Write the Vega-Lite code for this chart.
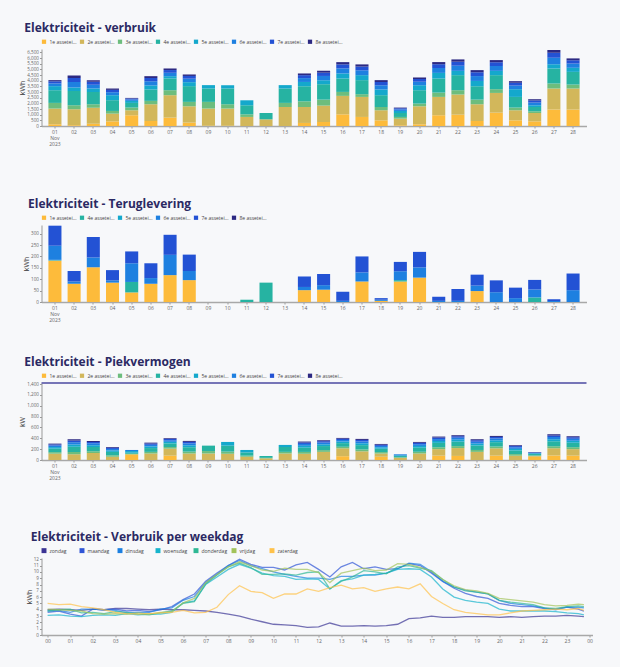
{
"$schema": "https://vega.github.io/schema/vega-lite/v6.json",
"background": "#f7f8fa",
"padding": {"left": 18.5, "top": 22, "right": 27, "bottom": 28},
"spacing": 34,
"resolve": {"scale": {"color": "independent", "x": "independent", "y": "independent"}, "legend": {"color": "independent"}},
"datasets": {
"verbruik": [
{"d":"01","s":"1e","v":150},{"d":"01","s":"2e","v":1390},{"d":"01","s":"3e","v":500},{"d":"01","s":"4e","v":1120},{"d":"01","s":"5e","v":360},{"d":"01","s":"6e","v":240},{"d":"01","s":"7e","v":185},{"d":"01","s":"8e","v":105},
{"d":"02","s":"1e","v":60},{"d":"02","s":"2e","v":1420},{"d":"02","s":"3e","v":350},{"d":"02","s":"4e","v":1270},{"d":"02","s":"5e","v":300},{"d":"02","s":"6e","v":480},{"d":"02","s":"7e","v":370},{"d":"02","s":"8e","v":210},
{"d":"03","s":"1e","v":200},{"d":"03","s":"2e","v":1420},{"d":"03","s":"3e","v":300},{"d":"03","s":"4e","v":1090},{"d":"03","s":"5e","v":300},{"d":"03","s":"6e","v":330},{"d":"03","s":"7e","v":260},{"d":"03","s":"8e","v":150},
{"d":"04","s":"1e","v":410},{"d":"04","s":"2e","v":680},{"d":"04","s":"3e","v":240},{"d":"04","s":"4e","v":950},{"d":"04","s":"5e","v":440},{"d":"04","s":"6e","v":265},{"d":"04","s":"7e","v":205},{"d":"04","s":"8e","v":120},
{"d":"05","s":"1e","v":950},{"d":"05","s":"2e","v":440},{"d":"05","s":"3e","v":240},{"d":"05","s":"4e","v":410},{"d":"05","s":"5e","v":180},{"d":"05","s":"6e","v":120},{"d":"05","s":"7e","v":90},{"d":"05","s":"8e","v":50},
{"d":"06","s":"1e","v":440},{"d":"06","s":"2e","v":1480},{"d":"06","s":"3e","v":300},{"d":"06","s":"4e","v":1000},{"d":"06","s":"5e","v":360},{"d":"06","s":"6e","v":370},{"d":"06","s":"7e","v":290},{"d":"06","s":"8e","v":160},
{"d":"07","s":"1e","v":740},{"d":"07","s":"2e","v":1980},{"d":"07","s":"3e","v":440},{"d":"07","s":"4e","v":1040},{"d":"07","s":"5e","v":200},{"d":"07","s":"6e","v":300},{"d":"07","s":"7e","v":240},{"d":"07","s":"8e","v":140},
{"d":"08","s":"1e","v":300},{"d":"08","s":"2e","v":1440},{"d":"08","s":"3e","v":390},{"d":"08","s":"4e","v":1390},{"d":"08","s":"5e","v":350},{"d":"08","s":"6e","v":310},{"d":"08","s":"7e","v":240},{"d":"08","s":"8e","v":130},
{"d":"09","s":"1e","v":20},{"d":"09","s":"2e","v":1520},{"d":"09","s":"3e","v":590},{"d":"09","s":"4e","v":1180},{"d":"09","s":"5e","v":300},
{"d":"10","s":"1e","v":20},{"d":"10","s":"2e","v":1520},{"d":"10","s":"3e","v":380},{"d":"10","s":"4e","v":1390},{"d":"10","s":"5e","v":290},
{"d":"11","s":"2e","v":800},{"d":"11","s":"3e","v":230},{"d":"11","s":"4e","v":800},{"d":"11","s":"5e","v":440},
{"d":"12","s":"2e","v":590},{"d":"12","s":"4e","v":560},
{"d":"13","s":"2e","v":1680},{"d":"13","s":"3e","v":360},{"d":"13","s":"4e","v":1270},{"d":"13","s":"5e","v":300},
{"d":"14","s":"1e","v":270},{"d":"14","s":"2e","v":1410},{"d":"14","s":"3e","v":500},{"d":"14","s":"4e","v":1330},{"d":"14","s":"5e","v":380},{"d":"14","s":"6e","v":340},{"d":"14","s":"7e","v":260},{"d":"14","s":"8e","v":150},
{"d":"15","s":"1e","v":355},{"d":"15","s":"2e","v":1445},{"d":"15","s":"3e","v":530},{"d":"15","s":"4e","v":1360},{"d":"15","s":"5e","v":350},{"d":"15","s":"6e","v":380},{"d":"15","s":"7e","v":290},{"d":"15","s":"8e","v":170},
{"d":"16","s":"1e","v":1030},{"d":"16","s":"2e","v":1630},{"d":"16","s":"3e","v":350},{"d":"16","s":"4e","v":1180},{"d":"16","s":"5e","v":450},{"d":"16","s":"6e","v":450},{"d":"16","s":"7e","v":350},{"d":"16","s":"8e","v":200},
{"d":"17","s":"1e","v":800},{"d":"17","s":"2e","v":1770},{"d":"17","s":"3e","v":240},{"d":"17","s":"4e","v":1240},{"d":"17","s":"5e","v":440},{"d":"17","s":"6e","v":430},{"d":"17","s":"7e","v":330},{"d":"17","s":"8e","v":190},
{"d":"18","s":"1e","v":500},{"d":"18","s":"2e","v":890},{"d":"18","s":"3e","v":290},{"d":"18","s":"4e","v":1040},{"d":"18","s":"5e","v":500},{"d":"18","s":"6e","v":375},{"d":"18","s":"7e","v":290},{"d":"18","s":"8e","v":165},
{"d":"19","s":"1e","v":60},{"d":"19","s":"2e","v":590},{"d":"19","s":"3e","v":150},{"d":"19","s":"4e","v":350},{"d":"19","s":"5e","v":180},{"d":"19","s":"6e","v":135},{"d":"19","s":"7e","v":100},{"d":"19","s":"8e","v":60},
{"d":"20","s":"1e","v":150},{"d":"20","s":"2e","v":1590},{"d":"20","s":"3e","v":240},{"d":"20","s":"4e","v":1180},{"d":"20","s":"5e","v":440},{"d":"20","s":"6e","v":310},{"d":"20","s":"7e","v":240},{"d":"20","s":"8e","v":135},
{"d":"21","s":"1e","v":950},{"d":"21","s":"2e","v":1620},{"d":"21","s":"3e","v":380},{"d":"21","s":"4e","v":1240},{"d":"21","s":"5e","v":500},{"d":"21","s":"6e","v":430},{"d":"21","s":"7e","v":335},{"d":"21","s":"8e","v":190},
{"d":"22","s":"1e","v":1000},{"d":"22","s":"2e","v":1780},{"d":"22","s":"3e","v":380},{"d":"22","s":"4e","v":1330},{"d":"22","s":"5e","v":380},{"d":"22","s":"6e","v":455},{"d":"22","s":"7e","v":355},{"d":"22","s":"8e","v":200},
{"d":"23","s":"1e","v":440},{"d":"23","s":"2e","v":1480},{"d":"23","s":"3e","v":410},{"d":"23","s":"4e","v":1180},{"d":"23","s":"5e","v":470},{"d":"23","s":"6e","v":430},{"d":"23","s":"7e","v":335},{"d":"23","s":"8e","v":190},
{"d":"24","s":"1e","v":1180},{"d":"24","s":"2e","v":1740},{"d":"24","s":"3e","v":330},{"d":"24","s":"4e","v":1240},{"d":"24","s":"5e","v":380},{"d":"24","s":"6e","v":430},{"d":"24","s":"7e","v":330},{"d":"24","s":"8e","v":190},
{"d":"25","s":"1e","v":500},{"d":"25","s":"2e","v":890},{"d":"25","s":"3e","v":240},{"d":"25","s":"4e","v":940},{"d":"25","s":"5e","v":680},{"d":"25","s":"6e","v":320},{"d":"25","s":"7e","v":250},{"d":"25","s":"8e","v":140},
{"d":"26","s":"1e","v":410},{"d":"26","s":"2e","v":740},{"d":"26","s":"3e","v":150},{"d":"26","s":"4e","v":380},{"d":"26","s":"5e","v":150},{"d":"26","s":"6e","v":240},{"d":"26","s":"7e","v":190},{"d":"26","s":"8e","v":105},
{"d":"27","s":"1e","v":1450},{"d":"27","s":"2e","v":1860},{"d":"27","s":"3e","v":440},{"d":"27","s":"4e","v":1330},{"d":"27","s":"5e","v":380},{"d":"27","s":"6e","v":560},{"d":"27","s":"7e","v":440},{"d":"27","s":"8e","v":250},
{"d":"28","s":"1e","v":1450},{"d":"28","s":"2e","v":1860},{"d":"28","s":"3e","v":350},{"d":"28","s":"4e","v":1120},{"d":"28","s":"5e","v":360},{"d":"28","s":"6e","v":375},{"d":"28","s":"7e","v":290},{"d":"28","s":"8e","v":165}
],
"terug": [
{"d":"01","s":"1e","v":182},{"d":"01","s":"5e","v":3},{"d":"01","s":"6e","v":62},{"d":"01","s":"7e","v":88},
{"d":"02","s":"1e","v":80},{"d":"02","s":"6e","v":10},{"d":"02","s":"7e","v":46},
{"d":"03","s":"1e","v":153},{"d":"03","s":"6e","v":42},{"d":"03","s":"7e","v":90},
{"d":"04","s":"1e","v":85},{"d":"04","s":"6e","v":10},{"d":"04","s":"7e","v":45},
{"d":"05","s":"1e","v":42},{"d":"05","s":"4e","v":46},{"d":"05","s":"6e","v":82},{"d":"05","s":"7e","v":52},
{"d":"06","s":"1e","v":80},{"d":"06","s":"6e","v":25},{"d":"06","s":"7e","v":65},
{"d":"07","s":"1e","v":118},{"d":"07","s":"6e","v":89},{"d":"07","s":"7e","v":88},
{"d":"08","s":"1e","v":96},{"d":"08","s":"6e","v":40},{"d":"08","s":"7e","v":72},
{"d":"11","s":"4e","v":10},
{"d":"12","s":"4e","v":85},
{"d":"14","s":"1e","v":52},{"d":"14","s":"6e","v":14},{"d":"14","s":"7e","v":46},
{"d":"15","s":"1e","v":54},{"d":"15","s":"6e","v":20},{"d":"15","s":"7e","v":49},
{"d":"16","s":"6e","v":5},{"d":"16","s":"7e","v":40},
{"d":"17","s":"1e","v":90},{"d":"17","s":"6e","v":40},{"d":"17","s":"7e","v":70},
{"d":"18","s":"1e","v":5},{"d":"18","s":"6e","v":5},{"d":"18","s":"7e","v":7},
{"d":"19","s":"1e","v":90},{"d":"19","s":"4e","v":6},{"d":"19","s":"6e","v":39},{"d":"19","s":"7e","v":41},
{"d":"20","s":"1e","v":107},{"d":"20","s":"6e","v":45},{"d":"20","s":"7e","v":68},
{"d":"21","s":"6e","v":5},{"d":"21","s":"7e","v":18},
{"d":"22","s":"6e","v":5},{"d":"22","s":"7e","v":52},
{"d":"23","s":"1e","v":48},{"d":"23","s":"6e","v":24},{"d":"23","s":"7e","v":48},
{"d":"24","s":"6e","v":43},{"d":"24","s":"7e","v":52},
{"d":"25","s":"6e","v":17},{"d":"25","s":"7e","v":46},
{"d":"26","s":"4e","v":20},{"d":"26","s":"6e","v":35},{"d":"26","s":"7e","v":42},
{"d":"27","s":"6e","v":4},{"d":"27","s":"7e","v":8},
{"d":"28","s":"6e","v":52},{"d":"28","s":"7e","v":73}
],
"piek": [
{"d":"01","s":"2e","v":117},{"d":"01","s":"3e","v":28},{"d":"01","s":"4e","v":65},{"d":"01","s":"5e","v":28},{"d":"01","s":"6e","v":28},{"d":"01","s":"7e","v":22},{"d":"01","s":"8e","v":14},
{"d":"02","s":"2e","v":105},{"d":"02","s":"3e","v":42},{"d":"02","s":"4e","v":97},{"d":"02","s":"5e","v":42},{"d":"02","s":"6e","v":42},{"d":"02","s":"7e","v":33},{"d":"02","s":"8e","v":22},
{"d":"03","s":"2e","v":130},{"d":"03","s":"3e","v":33},{"d":"03","s":"4e","v":78},{"d":"03","s":"5e","v":33},{"d":"03","s":"6e","v":33},{"d":"03","s":"7e","v":27},{"d":"03","s":"8e","v":18},
{"d":"04","s":"2e","v":60},{"d":"04","s":"3e","v":27},{"d":"04","s":"4e","v":63},{"d":"04","s":"5e","v":27},{"d":"04","s":"6e","v":27},{"d":"04","s":"7e","v":22},{"d":"04","s":"8e","v":14},
{"d":"05","s":"1e","v":105},{"d":"05","s":"3e","v":10},{"d":"05","s":"4e","v":20},{"d":"05","s":"5e","v":30},{"d":"05","s":"6e","v":20},
{"d":"06","s":"2e","v":120},{"d":"06","s":"3e","v":30},{"d":"06","s":"4e","v":70},{"d":"06","s":"5e","v":30},{"d":"06","s":"6e","v":30},{"d":"06","s":"7e","v":24},{"d":"06","s":"8e","v":16},
{"d":"07","s":"1e","v":80},{"d":"07","s":"2e","v":130},{"d":"07","s":"3e","v":29},{"d":"07","s":"4e","v":67},{"d":"07","s":"5e","v":29},{"d":"07","s":"6e","v":29},{"d":"07","s":"7e","v":23},{"d":"07","s":"8e","v":14},
{"d":"08","s":"2e","v":120},{"d":"08","s":"3e","v":35},{"d":"08","s":"4e","v":81},{"d":"08","s":"5e","v":35},{"d":"08","s":"6e","v":35},{"d":"08","s":"7e","v":28},{"d":"08","s":"8e","v":18},
{"d":"09","s":"2e","v":120},{"d":"09","s":"3e","v":45},{"d":"09","s":"4e","v":100},
{"d":"10","s":"2e","v":115},{"d":"10","s":"3e","v":40},{"d":"10","s":"4e","v":110},{"d":"10","s":"5e","v":68},
{"d":"11","s":"2e","v":60},{"d":"11","s":"3e","v":20},{"d":"11","s":"4e","v":60},{"d":"11","s":"5e","v":45},
{"d":"12","s":"2e","v":30},{"d":"12","s":"3e","v":10},{"d":"12","s":"4e","v":34},
{"d":"13","s":"2e","v":120},{"d":"13","s":"3e","v":30},{"d":"13","s":"4e","v":90},{"d":"13","s":"5e","v":38},
{"d":"14","s":"2e","v":115},{"d":"14","s":"3e","v":34},{"d":"14","s":"4e","v":79},{"d":"14","s":"5e","v":34},{"d":"14","s":"6e","v":34},{"d":"14","s":"7e","v":27},{"d":"14","s":"8e","v":17},
{"d":"15","s":"2e","v":150},{"d":"15","s":"3e","v":32},{"d":"15","s":"4e","v":75},{"d":"15","s":"5e","v":32},{"d":"15","s":"6e","v":32},{"d":"15","s":"7e","v":26},{"d":"15","s":"8e","v":17},
{"d":"16","s":"1e","v":70},{"d":"16","s":"2e","v":145},{"d":"16","s":"3e","v":29},{"d":"16","s":"4e","v":67},{"d":"16","s":"5e","v":29},{"d":"16","s":"6e","v":29},{"d":"16","s":"7e","v":23},{"d":"16","s":"8e","v":15},
{"d":"17","s":"2e","v":160},{"d":"17","s":"3e","v":34},{"d":"17","s":"4e","v":80},{"d":"17","s":"5e","v":34},{"d":"17","s":"6e","v":34},{"d":"17","s":"7e","v":28},{"d":"17","s":"8e","v":19},
{"d":"18","s":"1e","v":60},{"d":"18","s":"2e","v":60},{"d":"18","s":"3e","v":26},{"d":"18","s":"4e","v":62},{"d":"18","s":"5e","v":26},{"d":"18","s":"6e","v":26},{"d":"18","s":"7e","v":21},{"d":"18","s":"8e","v":15},
{"d":"19","s":"2e","v":40},{"d":"19","s":"3e","v":10},{"d":"19","s":"4e","v":23},{"d":"19","s":"5e","v":12},{"d":"19","s":"6e","v":20},
{"d":"20","s":"2e","v":120},{"d":"20","s":"3e","v":32},{"d":"20","s":"4e","v":75},{"d":"20","s":"5e","v":32},{"d":"20","s":"6e","v":32},{"d":"20","s":"7e","v":26},{"d":"20","s":"8e","v":16},
{"d":"21","s":"1e","v":80},{"d":"21","s":"2e","v":120},{"d":"21","s":"3e","v":35},{"d":"21","s":"4e","v":81},{"d":"21","s":"5e","v":35},{"d":"21","s":"6e","v":35},{"d":"21","s":"7e","v":28},{"d":"21","s":"8e","v":18},
{"d":"22","s":"1e","v":75},{"d":"22","s":"2e","v":145},{"d":"22","s":"3e","v":36},{"d":"22","s":"4e","v":83},{"d":"22","s":"5e","v":36},{"d":"22","s":"6e","v":36},{"d":"22","s":"7e","v":28},{"d":"22","s":"8e","v":18},
{"d":"23","s":"2e","v":150},{"d":"23","s":"3e","v":35},{"d":"23","s":"4e","v":82},{"d":"23","s":"5e","v":35},{"d":"23","s":"6e","v":35},{"d":"23","s":"7e","v":28},{"d":"23","s":"8e","v":18},
{"d":"24","s":"1e","v":80},{"d":"24","s":"2e","v":135},{"d":"24","s":"3e","v":34},{"d":"24","s":"4e","v":80},{"d":"24","s":"5e","v":34},{"d":"24","s":"6e","v":34},{"d":"24","s":"7e","v":28},{"d":"24","s":"8e","v":19},
{"d":"25","s":"2e","v":80},{"d":"25","s":"3e","v":29},{"d":"25","s":"4e","v":67},{"d":"25","s":"5e","v":29},{"d":"25","s":"6e","v":29},{"d":"25","s":"7e","v":23},{"d":"25","s":"8e","v":15},
{"d":"26","s":"1e","v":60},{"d":"26","s":"2e","v":15},{"d":"26","s":"3e","v":10},{"d":"26","s":"4e","v":25},{"d":"26","s":"5e","v":12},{"d":"26","s":"6e","v":12},{"d":"26","s":"7e","v":8},{"d":"26","s":"8e","v":6},
{"d":"27","s":"1e","v":85},{"d":"27","s":"2e","v":130},{"d":"27","s":"3e","v":39},{"d":"27","s":"4e","v":91},{"d":"27","s":"5e","v":39},{"d":"27","s":"6e","v":39},{"d":"27","s":"7e","v":31},{"d":"27","s":"8e","v":21},
{"d":"28","s":"1e","v":80},{"d":"28","s":"2e","v":120},{"d":"28","s":"3e","v":36},{"d":"28","s":"4e","v":83},{"d":"28","s":"5e","v":36},{"d":"28","s":"6e","v":36},{"d":"28","s":"7e","v":29},{"d":"28","s":"8e","v":18}
],
"cap": [{"v": 1420}],
"week": [
{"t":0,"w":"zondag","v":4.0},{"t":0.5,"w":"zondag","v":4.1},{"t":1,"w":"zondag","v":4.0},{"t":1.5,"w":"zondag","v":3.9},{"t":2,"w":"zondag","v":4.1},{"t":2.5,"w":"zondag","v":4.0},{"t":3,"w":"zondag","v":4.2},{"t":3.5,"w":"zondag","v":4.2},{"t":4,"w":"zondag","v":4.1},{"t":4.5,"w":"zondag","v":4.0},{"t":5,"w":"zondag","v":4.1},{"t":5.5,"w":"zondag","v":4.0},{"t":6,"w":"zondag","v":4.0},{"t":6.5,"w":"zondag","v":3.9},{"t":7,"w":"zondag","v":3.8},{"t":7.5,"w":"zondag","v":3.6},{"t":8,"w":"zondag","v":3.3},{"t":8.5,"w":"zondag","v":3.0},{"t":9,"w":"zondag","v":2.5},{"t":9.5,"w":"zondag","v":2.1},{"t":10,"w":"zondag","v":1.7},{"t":10.5,"w":"zondag","v":1.6},{"t":11,"w":"zondag","v":1.5},{"t":11.5,"w":"zondag","v":1.2},{"t":12,"w":"zondag","v":1.3},{"t":12.5,"w":"zondag","v":1.9},{"t":13,"w":"zondag","v":1.4},{"t":13.5,"w":"zondag","v":1.4},{"t":14,"w":"zondag","v":1.5},{"t":14.5,"w":"zondag","v":1.4},{"t":15,"w":"zondag","v":1.5},{"t":15.5,"w":"zondag","v":1.7},{"t":16,"w":"zondag","v":2.6},{"t":16.5,"w":"zondag","v":2.7},{"t":17,"w":"zondag","v":3.0},{"t":17.5,"w":"zondag","v":2.8},{"t":18,"w":"zondag","v":2.8},{"t":18.5,"w":"zondag","v":2.9},{"t":19,"w":"zondag","v":2.9},{"t":19.5,"w":"zondag","v":2.9},{"t":20,"w":"zondag","v":2.8},{"t":20.5,"w":"zondag","v":2.9},{"t":21,"w":"zondag","v":2.8},{"t":21.5,"w":"zondag","v":2.9},{"t":22,"w":"zondag","v":3.0},{"t":22.5,"w":"zondag","v":3.0},{"t":23,"w":"zondag","v":3.1},{"t":23.5,"w":"zondag","v":3.0},{"t":23.75,"w":"zondag","v":2.9},
{"t":0,"w":"maandag","v":3.6},{"t":0.5,"w":"maandag","v":3.8},{"t":1,"w":"maandag","v":3.3},{"t":1.5,"w":"maandag","v":3.0},{"t":2,"w":"maandag","v":4.1},{"t":2.5,"w":"maandag","v":4.0},{"t":3,"w":"maandag","v":4.1},{"t":3.5,"w":"maandag","v":3.8},{"t":4,"w":"maandag","v":3.9},{"t":4.5,"w":"maandag","v":3.7},{"t":5,"w":"maandag","v":4.0},{"t":5.5,"w":"maandag","v":4.5},{"t":6,"w":"maandag","v":5.6},{"t":6.5,"w":"maandag","v":6.5},{"t":7,"w":"maandag","v":8.5},{"t":7.5,"w":"maandag","v":9.8},{"t":8,"w":"maandag","v":11.0},{"t":8.5,"w":"maandag","v":12.0},{"t":9,"w":"maandag","v":11.2},{"t":9.5,"w":"maandag","v":10.7},{"t":10,"w":"maandag","v":10.7},{"t":10.5,"w":"maandag","v":10.3},{"t":11,"w":"maandag","v":11.1},{"t":11.5,"w":"maandag","v":11.5},{"t":12,"w":"maandag","v":10.4},{"t":12.5,"w":"maandag","v":9.2},{"t":13,"w":"maandag","v":10.8},{"t":13.5,"w":"maandag","v":11.5},{"t":14,"w":"maandag","v":10.5},{"t":14.5,"w":"maandag","v":10.8},{"t":15,"w":"maandag","v":10.4},{"t":15.5,"w":"maandag","v":10.5},{"t":16,"w":"maandag","v":11.3},{"t":16.5,"w":"maandag","v":11.0},{"t":17,"w":"maandag","v":9.8},{"t":17.5,"w":"maandag","v":8.5},{"t":18,"w":"maandag","v":7.4},{"t":18.5,"w":"maandag","v":6.6},{"t":19,"w":"maandag","v":6.1},{"t":19.5,"w":"maandag","v":5.8},{"t":20,"w":"maandag","v":5.0},{"t":20.5,"w":"maandag","v":4.7},{"t":21,"w":"maandag","v":4.5},{"t":21.5,"w":"maandag","v":4.5},{"t":22,"w":"maandag","v":4.2},{"t":22.5,"w":"maandag","v":4.1},{"t":23,"w":"maandag","v":4.4},{"t":23.5,"w":"maandag","v":4.1},{"t":23.75,"w":"maandag","v":3.8},
{"t":0,"w":"dinsdag","v":3.8},{"t":0.5,"w":"dinsdag","v":3.9},{"t":1,"w":"dinsdag","v":3.6},{"t":1.5,"w":"dinsdag","v":4.1},{"t":2,"w":"dinsdag","v":4.1},{"t":2.5,"w":"dinsdag","v":4.0},{"t":3,"w":"dinsdag","v":3.9},{"t":3.5,"w":"dinsdag","v":3.5},{"t":4,"w":"dinsdag","v":3.6},{"t":4.5,"w":"dinsdag","v":3.6},{"t":5,"w":"dinsdag","v":4.1},{"t":5.5,"w":"dinsdag","v":4.3},{"t":6,"w":"dinsdag","v":5.5},{"t":6.5,"w":"dinsdag","v":6.1},{"t":7,"w":"dinsdag","v":8.3},{"t":7.5,"w":"dinsdag","v":9.6},{"t":8,"w":"dinsdag","v":11.0},{"t":8.5,"w":"dinsdag","v":11.8},{"t":9,"w":"dinsdag","v":11.0},{"t":9.5,"w":"dinsdag","v":10.5},{"t":10,"w":"dinsdag","v":10.0},{"t":10.5,"w":"dinsdag","v":9.6},{"t":11,"w":"dinsdag","v":9.3},{"t":11.5,"w":"dinsdag","v":9.0},{"t":12,"w":"dinsdag","v":9.0},{"t":12.5,"w":"dinsdag","v":8.8},{"t":13,"w":"dinsdag","v":9.3},{"t":13.5,"w":"dinsdag","v":9.3},{"t":14,"w":"dinsdag","v":9.5},{"t":14.5,"w":"dinsdag","v":9.5},{"t":15,"w":"dinsdag","v":9.8},{"t":15.5,"w":"dinsdag","v":10.5},{"t":16,"w":"dinsdag","v":11.4},{"t":16.5,"w":"dinsdag","v":11.2},{"t":17,"w":"dinsdag","v":10.0},{"t":17.5,"w":"dinsdag","v":8.5},{"t":18,"w":"dinsdag","v":7.6},{"t":18.5,"w":"dinsdag","v":7.1},{"t":19,"w":"dinsdag","v":6.8},{"t":19.5,"w":"dinsdag","v":6.5},{"t":20,"w":"dinsdag","v":5.5},{"t":20.5,"w":"dinsdag","v":5.0},{"t":21,"w":"dinsdag","v":4.8},{"t":21.5,"w":"dinsdag","v":4.6},{"t":22,"w":"dinsdag","v":4.3},{"t":22.5,"w":"dinsdag","v":4.0},{"t":23,"w":"dinsdag","v":4.4},{"t":23.5,"w":"dinsdag","v":4.4},{"t":23.75,"w":"dinsdag","v":4.3},
{"t":0,"w":"woensdag","v":3.1},{"t":0.5,"w":"woensdag","v":3.2},{"t":1,"w":"woensdag","v":3.0},{"t":1.5,"w":"woensdag","v":2.9},{"t":2,"w":"woensdag","v":3.1},{"t":2.5,"w":"woensdag","v":3.2},{"t":3,"w":"woensdag","v":3.1},{"t":3.5,"w":"woensdag","v":3.4},{"t":4,"w":"woensdag","v":3.2},{"t":4.5,"w":"woensdag","v":3.3},{"t":5,"w":"woensdag","v":3.3},{"t":5.5,"w":"woensdag","v":3.6},{"t":6,"w":"woensdag","v":5.1},{"t":6.5,"w":"woensdag","v":5.4},{"t":7,"w":"woensdag","v":8.0},{"t":7.5,"w":"woensdag","v":9.2},{"t":8,"w":"woensdag","v":10.4},{"t":8.5,"w":"woensdag","v":11.2},{"t":9,"w":"woensdag","v":10.6},{"t":9.5,"w":"woensdag","v":9.8},{"t":10,"w":"woensdag","v":9.4},{"t":10.5,"w":"woensdag","v":9.3},{"t":11,"w":"woensdag","v":8.8},{"t":11.5,"w":"woensdag","v":8.9},{"t":12,"w":"woensdag","v":8.8},{"t":12.5,"w":"woensdag","v":7.3},{"t":13,"w":"woensdag","v":8.6},{"t":13.5,"w":"woensdag","v":8.9},{"t":14,"w":"woensdag","v":9.5},{"t":14.5,"w":"woensdag","v":9.6},{"t":15,"w":"woensdag","v":9.8},{"t":15.5,"w":"woensdag","v":10.4},{"t":16,"w":"woensdag","v":10.5},{"t":16.5,"w":"woensdag","v":10.4},{"t":17,"w":"woensdag","v":9.2},{"t":17.5,"w":"woensdag","v":7.3},{"t":18,"w":"woensdag","v":6.0},{"t":18.5,"w":"woensdag","v":5.5},{"t":19,"w":"woensdag","v":5.2},{"t":19.5,"w":"woensdag","v":5.0},{"t":20,"w":"woensdag","v":4.1},{"t":20.5,"w":"woensdag","v":3.8},{"t":21,"w":"woensdag","v":3.8},{"t":21.5,"w":"woensdag","v":3.8},{"t":22,"w":"woensdag","v":3.8},{"t":22.5,"w":"woensdag","v":3.7},{"t":23,"w":"woensdag","v":3.5},{"t":23.5,"w":"woensdag","v":3.4},{"t":23.75,"w":"woensdag","v":3.2},
{"t":0,"w":"donderdag","v":3.8},{"t":0.5,"w":"donderdag","v":4.0},{"t":1,"w":"donderdag","v":4.1},{"t":1.5,"w":"donderdag","v":3.5},{"t":2,"w":"donderdag","v":3.6},{"t":2.5,"w":"donderdag","v":3.4},{"t":3,"w":"donderdag","v":3.7},{"t":3.5,"w":"donderdag","v":3.6},{"t":4,"w":"donderdag","v":3.3},{"t":4.5,"w":"donderdag","v":3.2},{"t":5,"w":"donderdag","v":3.5},{"t":5.5,"w":"donderdag","v":3.8},{"t":6,"w":"donderdag","v":5.0},{"t":6.5,"w":"donderdag","v":5.3},{"t":7,"w":"donderdag","v":8.1},{"t":7.5,"w":"donderdag","v":9.5},{"t":8,"w":"donderdag","v":10.8},{"t":8.5,"w":"donderdag","v":11.4},{"t":9,"w":"donderdag","v":10.7},{"t":9.5,"w":"donderdag","v":9.6},{"t":10,"w":"donderdag","v":9.6},{"t":10.5,"w":"donderdag","v":9.7},{"t":11,"w":"donderdag","v":9.5},{"t":11.5,"w":"donderdag","v":9.9},{"t":12,"w":"donderdag","v":10.0},{"t":12.5,"w":"donderdag","v":7.3},{"t":13,"w":"donderdag","v":8.5},{"t":13.5,"w":"donderdag","v":9.2},{"t":14,"w":"donderdag","v":10.2},{"t":14.5,"w":"donderdag","v":10.0},{"t":15,"w":"donderdag","v":9.7},{"t":15.5,"w":"donderdag","v":10.8},{"t":16,"w":"donderdag","v":11.0},{"t":16.5,"w":"donderdag","v":10.6},{"t":17,"w":"donderdag","v":10.2},{"t":17.5,"w":"donderdag","v":8.8},{"t":18,"w":"donderdag","v":7.6},{"t":18.5,"w":"donderdag","v":7.0},{"t":19,"w":"donderdag","v":6.8},{"t":19.5,"w":"donderdag","v":6.5},{"t":20,"w":"donderdag","v":5.5},{"t":20.5,"w":"donderdag","v":5.2},{"t":21,"w":"donderdag","v":5.0},{"t":21.5,"w":"donderdag","v":4.8},{"t":22,"w":"donderdag","v":4.3},{"t":22.5,"w":"donderdag","v":4.2},{"t":23,"w":"donderdag","v":4.5},{"t":23.5,"w":"donderdag","v":4.6},{"t":23.75,"w":"donderdag","v":4.5},
{"t":0,"w":"vrijdag","v":4.1},{"t":0.5,"w":"vrijdag","v":4.0},{"t":1,"w":"vrijdag","v":3.9},{"t":1.5,"w":"vrijdag","v":3.8},{"t":2,"w":"vrijdag","v":3.4},{"t":2.5,"w":"vrijdag","v":3.3},{"t":3,"w":"vrijdag","v":3.4},{"t":3.5,"w":"vrijdag","v":3.3},{"t":4,"w":"vrijdag","v":3.5},{"t":4.5,"w":"vrijdag","v":3.3},{"t":5,"w":"vrijdag","v":3.6},{"t":5.5,"w":"vrijdag","v":3.7},{"t":6,"w":"vrijdag","v":5.1},{"t":6.5,"w":"vrijdag","v":5.8},{"t":7,"w":"vrijdag","v":8.3},{"t":7.5,"w":"vrijdag","v":9.6},{"t":8,"w":"vrijdag","v":10.8},{"t":8.5,"w":"vrijdag","v":11.6},{"t":9,"w":"vrijdag","v":11.0},{"t":9.5,"w":"vrijdag","v":10.3},{"t":10,"w":"vrijdag","v":10.1},{"t":10.5,"w":"vrijdag","v":10.6},{"t":11,"w":"vrijdag","v":10.4},{"t":11.5,"w":"vrijdag","v":10.4},{"t":12,"w":"vrijdag","v":9.9},{"t":12.5,"w":"vrijdag","v":8.3},{"t":13,"w":"vrijdag","v":9.8},{"t":13.5,"w":"vrijdag","v":10.2},{"t":14,"w":"vrijdag","v":10.6},{"t":14.5,"w":"vrijdag","v":10.2},{"t":15,"w":"vrijdag","v":10.3},{"t":15.5,"w":"vrijdag","v":11.3},{"t":16,"w":"vrijdag","v":11.2},{"t":16.5,"w":"vrijdag","v":10.7},{"t":17,"w":"vrijdag","v":10.1},{"t":17.5,"w":"vrijdag","v":8.8},{"t":18,"w":"vrijdag","v":7.8},{"t":18.5,"w":"vrijdag","v":7.2},{"t":19,"w":"vrijdag","v":7.0},{"t":19.5,"w":"vrijdag","v":6.6},{"t":20,"w":"vrijdag","v":5.8},{"t":20.5,"w":"vrijdag","v":5.6},{"t":21,"w":"vrijdag","v":5.4},{"t":21.5,"w":"vrijdag","v":5.2},{"t":22,"w":"vrijdag","v":4.8},{"t":22.5,"w":"vrijdag","v":4.6},{"t":23,"w":"vrijdag","v":4.7},{"t":23.5,"w":"vrijdag","v":4.9},{"t":23.75,"w":"vrijdag","v":4.8},
{"t":0,"w":"zaterdag","v":5.0},{"t":0.5,"w":"zaterdag","v":4.8},{"t":1,"w":"zaterdag","v":4.9},{"t":1.5,"w":"zaterdag","v":4.5},{"t":2,"w":"zaterdag","v":4.3},{"t":2.5,"w":"zaterdag","v":4.0},{"t":3,"w":"zaterdag","v":3.6},{"t":3.5,"w":"zaterdag","v":3.4},{"t":4,"w":"zaterdag","v":3.3},{"t":4.5,"w":"zaterdag","v":3.4},{"t":5,"w":"zaterdag","v":3.5},{"t":5.5,"w":"zaterdag","v":3.6},{"t":6,"w":"zaterdag","v":3.9},{"t":6.5,"w":"zaterdag","v":3.5},{"t":7,"w":"zaterdag","v":3.6},{"t":7.5,"w":"zaterdag","v":4.4},{"t":8,"w":"zaterdag","v":6.4},{"t":8.5,"w":"zaterdag","v":7.8},{"t":9,"w":"zaterdag","v":6.9},{"t":9.5,"w":"zaterdag","v":6.7},{"t":10,"w":"zaterdag","v":5.8},{"t":10.5,"w":"zaterdag","v":6.5},{"t":11,"w":"zaterdag","v":6.5},{"t":11.5,"w":"zaterdag","v":7.3},{"t":12,"w":"zaterdag","v":6.9},{"t":12.5,"w":"zaterdag","v":7.5},{"t":13,"w":"zaterdag","v":7.9},{"t":13.5,"w":"zaterdag","v":7.3},{"t":14,"w":"zaterdag","v":7.5},{"t":14.5,"w":"zaterdag","v":6.9},{"t":15,"w":"zaterdag","v":7.3},{"t":15.5,"w":"zaterdag","v":7.6},{"t":16,"w":"zaterdag","v":7.3},{"t":16.5,"w":"zaterdag","v":8.1},{"t":17,"w":"zaterdag","v":6.1},{"t":17.5,"w":"zaterdag","v":5.0},{"t":18,"w":"zaterdag","v":4.0},{"t":18.5,"w":"zaterdag","v":3.6},{"t":19,"w":"zaterdag","v":3.4},{"t":19.5,"w":"zaterdag","v":3.2},{"t":20,"w":"zaterdag","v":3.2},{"t":20.5,"w":"zaterdag","v":3.5},{"t":21,"w":"zaterdag","v":3.8},{"t":21.5,"w":"zaterdag","v":3.9},{"t":22,"w":"zaterdag","v":4.0},{"t":22.5,"w":"zaterdag","v":4.1},{"t":23,"w":"zaterdag","v":4.0},{"t":23.5,"w":"zaterdag","v":4.2},{"t":23.75,"w":"zaterdag","v":3.9}
]
},
"vconcat": [
{
"title": {"text": "Elektriciteit - verbruik", "dx": 5.5},
"width": 545, "height": 77,
"data": {"name": "verbruik"},
"mark": {"type": "bar"},
"encoding": {
"x": {"field": "d", "type": "ordinal",
"scale": {"domain": ["01","02","03","04","05","06","07","08","09","10","11","12","13","14","15","16","17","18","19","20","21","22","23","24","25","26","27","28"], "paddingInner": 0.32, "paddingOuter": 0.36},
"axis": {"title": " ", "titleFontSize": 8, "titlePadding": 10, "labelExpr": "datum.value == '01' ? ['01','Nov','2023'] : datum.value"}},
"y": {"field": "v", "type": "quantitative", "aggregate": "sum", "stack": "zero",
"scale": {"domain": [0, 6800], "nice": false},
"axis": {"title": "kWh", "values": [0,500,1000,1500,2000,2500,3000,3500,4000,4500,5000,5500,6000,6500], "format": ",.0f"}},
"color": {"field": "s", "type": "nominal",
"scale": {"domain": ["1e","2e","3e","4e","5e","6e","7e","8e"], "range": ["#fdbb3b","#d2b75b","#6dbd7d","#26b3a2","#14a8cc","#1e80e0","#2352d4","#2c2982"]},
"legend": {"title": null, "columns": 8, "orient": "none", "legendX": 0, "legendY": -10, "columnPadding": 2, "labelExpr": "datum.label + ' assetei...'"}},
"order": {"field": "s", "type": "ordinal"}
}
},
{
"title": {"text": "Elektriciteit - Teruglevering", "dx": 5.5},
"width": 545, "height": 77,
"data": {"name": "terug"},
"mark": {"type": "bar"},
"encoding": {
"x": {"field": "d", "type": "ordinal",
"scale": {"domain": ["01","02","03","04","05","06","07","08","09","10","11","12","13","14","15","16","17","18","19","20","21","22","23","24","25","26","27","28"], "paddingInner": 0.32, "paddingOuter": 0.36},
"axis": {"title": null, "labelExpr": "datum.value == '01' ? ['01','Nov','2023'] : datum.value"}},
"y": {"field": "v", "type": "quantitative", "aggregate": "sum", "stack": "zero",
"scale": {"domain": [0, 338], "nice": false},
"axis": {"title": "kWh", "values": [0,50,100,150,200,250,300], "format": ",.0f"}},
"color": {"field": "s", "type": "nominal",
"scale": {"domain": ["1e","4e","5e","6e","7e","8e"], "range": ["#fdbb3b","#26b3a2","#14a8cc","#1e80e0","#2352d4","#2c2982"]},
"legend": {"title": null, "columns": 6, "orient": "none", "legendX": 0, "legendY": -10, "columnPadding": 2, "labelExpr": "datum.label + ' assetei...'"}},
"order": {"field": "s", "type": "ordinal"}
}
},
{
"title": {"text": "Elektriciteit - Piekvermogen", "dx": 5.5},
"width": 545, "height": 77,
"layer": [
{
"data": {"name": "piek"},
"mark": {"type": "bar"},
"encoding": {
"x": {"field": "d", "type": "ordinal",
"scale": {"domain": ["01","02","03","04","05","06","07","08","09","10","11","12","13","14","15","16","17","18","19","20","21","22","23","24","25","26","27","28"], "paddingInner": 0.32, "paddingOuter": 0.36},
"axis": {"title": " ", "titleFontSize": 8, "titlePadding": 9, "labelExpr": "datum.value == '01' ? ['01','Nov','2023'] : datum.value"}},
"y": {"field": "v", "type": "quantitative", "aggregate": "sum", "stack": "zero",
"scale": {"domain": [0, 1420], "nice": false},
"axis": {"title": "kW", "values": [0,200,400,600,800,1000,1200,1400], "format": ",.0f"}},
"color": {"field": "s", "type": "nominal",
"scale": {"domain": ["1e","2e","3e","4e","5e","6e","7e","8e"], "range": ["#fdbb3b","#d2b75b","#6dbd7d","#26b3a2","#14a8cc","#1e80e0","#2352d4","#2c2982"]},
"legend": {"title": null, "columns": 8, "orient": "none", "legendX": 0, "legendY": -10, "columnPadding": 2, "labelExpr": "datum.label + ' assetei...'"}},
"order": {"field": "s", "type": "ordinal"}
}
},
{
"data": {"name": "cap"},
"mark": {"type": "rule", "color": "#4b4aa0", "strokeWidth": 1.5},
"encoding": {"y": {"field": "v", "type": "quantitative",
"scale": {"domain": [0, 1420], "nice": false},
"axis": {"title": "kW", "values": [0,200,400,600,800,1000,1200,1400], "format": ",.0f"}}}
}
]
},
{
"title": {"text": "Elektriciteit - Verbruik per weekdag", "dx": 5.5},
"width": 551, "height": 77,
"data": {"name": "week"},
"mark": {"type": "line", "strokeWidth": 1.3, "opacity": 0.7},
"encoding": {
"x": {"field": "t", "type": "quantitative",
"scale": {"domain": [-0.27, 24.13], "nice": false, "zero": false},
"axis": {"title": null, "values": [0,1,2,3,4,5,6,7,8,9,10,11,12,13,14,15,16,17,18,19,20,21,22,23,24], "labelFlush": false, "labelExpr": "(datum.value % 24 < 10 ? '0' : '') + (datum.value % 24)"}},
"y": {"field": "v", "type": "quantitative",
"scale": {"domain": [0, 12.2], "nice": false},
"axis": {"title": "kWh", "values": [0,1,2,3,4,5,6,7,8,9,10,11,12]}},
"color": {"field": "w", "type": "nominal",
"scale": {"domain": ["zondag","maandag","dinsdag","woensdag","donderdag","vrijdag","zaterdag"], "range": ["#3b3494","#2f55d6","#1b7fe0","#17b4cc","#2eb894","#a3c35a","#ffc24a"]},
"legend": {"title": null, "columns": 7, "orient": "none", "legendX": 0, "legendY": -10, "columnPadding": 0, "symbolType": "square", "symbolSize": 6, "symbolStrokeWidth": 2.5, "symbolOpacity": 1}}
}
}
],
"config": {
"font": "Open Sans",
"view": {"stroke": null},
"title": {"anchor": "start", "frame": "bounds", "fontSize": 12, "fontWeight": "bold", "color": "#2b2963", "offset": 4, "font": "Open Sans"},
"axis": {"grid": false, "labelFontSize": 5, "labelColor": "#666666", "labelFont": "Open Sans", "tickSize": 2, "tickColor": "#999999", "domainColor": "#999999", "labelPadding": 1, "titleFontSize": 7, "titleFontWeight": "normal", "titleColor": "#333333", "titlePadding": 1, "titleFont": "Open Sans"},
"axisY": {"labelFontSize": 4.6},
"axisX": {"domainWidth": 1.5, "domainColor": "#a8a8a8", "labelAngle": 0, "labelLineHeight": 6},
"legend": {"direction": "horizontal", "symbolType": "square", "symbolSize": 18, "labelFontSize": 5, "labelColor": "#444444", "labelFont": "Open Sans", "labelOffset": 3, "padding": 0, "gridAlign": "all", "symbolStrokeWidth": 0, "rowPadding": 0}
}
}
